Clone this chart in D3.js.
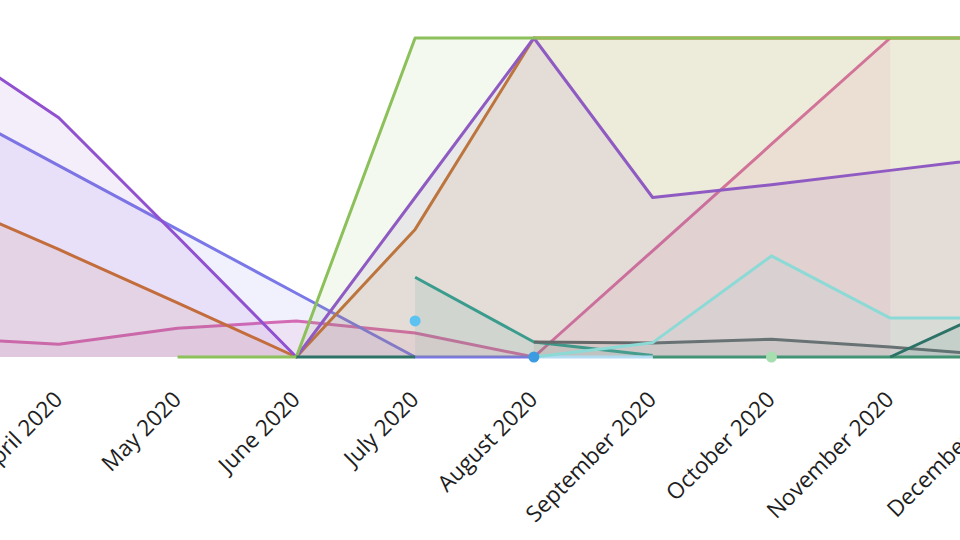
<!DOCTYPE html>
<html>
<head>
<meta charset="utf-8">
<script src="https://cdn.jsdelivr.net/npm/d3@7"></script>
<style>
  body { margin: 0; background: #fff; }
  svg { display: block; }
  .tick-label { font-family: "Open Sans", sans-serif; font-size: 22.5px; fill: #1e1e1e; }
</style>
</head>
<body>
<div id="chart"></div>
<script>
// months on the x axis (March sits off the left edge)
var months = ["March 2020", "April 2020", "May 2020", "June 2020", "July 2020",
  "August 2020", "September 2020", "October 2020", "November 2020", "December 2020"];
var yTicks = [0, 20, 40, 60, 80, 100];

// series values, one per month, null = no value
var pinkVals   = [6, 4, 9, 11.3, 7.5, 0, 33.3, 66.7, 100, null];
var blueVals   = [80, 60, 40, 20, 0, 0, null, null, null, null];
var orangeVals = [50, 33.7, 17, 0, 40, 100, 100, 100, 100, 100];
var purpleVals = [100, 75, 37.7, 0, 50, 100, 50, 54, 58.5, 63];
var greenVals  = [null, null, 0, 0, 100, 100, 100, 100, 100, 100];
var tealVals   = [null, null, null, null, 25, 4.7, 0.5, null, null, null];
var forestVals = [null, null, null, null, null, null, 0, 0, 0, 0];
var grayVals   = [null, null, null, null, null, 4.7, 4.4, 5.6, 3.1, 0.2];
var skyVals    = [null, null, null, null, null, 0, 0, null, null, null];
var cyanVals   = [null, null, null, null, null, 0, 4.5, 31.7, 12.2, 12.2];
var darkVals   = [null, null, null, 0, 0, null, null, null, 0, 17.1];

// single points
var lightBlueDot = [null, null, null, null, 11.3, null, null, null, null, null];
var blueDot      = [null, null, null, null, null, 0, null, null, null, null];
var mintDot      = [null, null, null, null, null, null, null, 0, null, null];

var width = 960, height = 540;

var svg = d3.select("#chart").append("svg")
  .attr("width", width)
  .attr("height", height);

var x = d3.scalePoint().domain(months).range([-60, 1009]);
var y = d3.scaleLinear().domain([0, 100]).range([357, 38]);

// grid
svg.append("g")
  .attr("class", "grid")
  .call(d3.axisLeft(y).tickValues(yTicks).tickSize(-width - 20).tickFormat(""))
  .attr("transform", "translate(" + (width + 10) + ",0)")
  .call(function(g) {
    g.select(".domain").remove();
    g.selectAll("line").attr("stroke", "#e4e4ec").attr("stroke-width", 1.6);
  });

function draw(vals, color) {
  var pts = vals.map(function(v, i) { return { m: months[i], v: v }; });
  var def = function(d) { return d.v != null; };
  var area = d3.area().defined(def)
    .x(function(d) { return x(d.m); })
    .y0(y(0))
    .y1(function(d) { return y(d.v); });
  var line = d3.line().defined(def)
    .x(function(d) { return x(d.m); })
    .y(function(d) { return y(d.v); });
  svg.append("path").datum(pts)
    .attr("d", area)
    .attr("fill", color)
    .attr("fill-opacity", 0.1);
  svg.append("path").datum(pts)
    .attr("d", line)
    .attr("fill", "none")
    .attr("stroke", color)
    .attr("stroke-width", 3)
    .attr("stroke-linejoin", "round");
}

function dot(vals, color) {
  svg.append("g").selectAll("circle")
    .data(vals.map(function(v, i) { return { m: months[i], v: v }; })
      .filter(function(d) { return d.v != null; }))
    .enter().append("circle")
    .attr("cx", function(d) { return x(d.m); })
    .attr("cy", function(d) { return y(d.v); })
    .attr("r", 5.5)
    .attr("fill", color);
}

draw(pinkVals, "#de6aae");
draw(blueVals, "#7a78e8");
draw(orangeVals, "#c9702c");
draw(purpleVals, "#9050d0");
draw(greenVals, "#8cc05a");
draw(tealVals, "#3a9c8c");
draw(forestVals, "#3e9470");
draw(grayVals, "#656769");
draw(skyVals, "#b4dcf4");
draw(cyanVals, "#8cdad6");
draw(darkVals, "#2c7266");

dot(lightBlueDot, "#5cc2f2");
dot(blueDot, "#3d9be2");
dot(mintDot, "#a6deb0");

// x labels, rotated
svg.append("g").selectAll("text")
  .data(months)
  .enter().append("text")
  .attr("class", "tick-label")
  .attr("text-anchor", "end")
  .attr("transform", function(d) { return "translate(" + (x(d) + 5) + ",401) rotate(-45)"; })
  .text(function(d) { return d; });
</script>
</body>
</html>
